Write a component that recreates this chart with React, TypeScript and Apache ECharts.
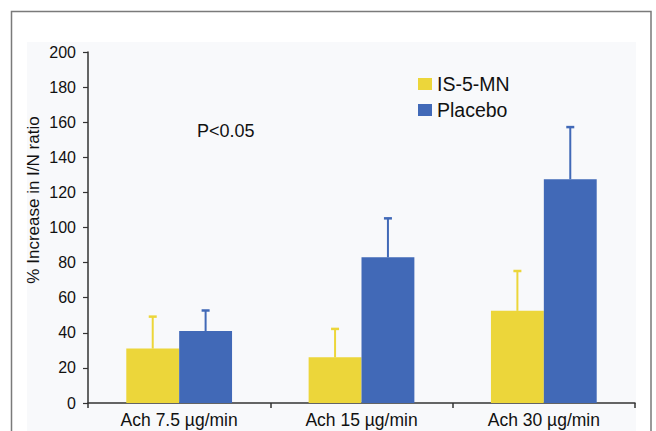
import React, { useEffect, useRef } from "react";
import * as echarts from "echarts";

const categories = ["Ach 7.5 µg/min", "Ach 15 µg/min", "Ach 30 µg/min"];
const isMeans = [31, 26, 52.5];
const isUpper = [49.5, 42.5, 75.5];
const placeboMeans = [41, 83, 127.5];
const placeboUpper = [53, 105.5, 157.5];
const seriesNames = ["IS-5-MN", "Placebo"];
const yTicks = { min: 0, max: 200, interval: 20 };

const YELLOW = "#ecd63a";
const BLUE = "#4169b7";
const FONT = "'Liberation Sans', Arial, Helvetica, sans-serif";

export default function App() {
  const ref = useRef<HTMLDivElement>(null);
  useEffect(() => {
    if (!ref.current) return;
    const chart = echarts.init(ref.current, null, { renderer: "svg" });
    const BAR_FRAC = 0.29;
    const errRender = (side: number, color: string) => (params: any, api: any) => {
      const cat = api.value(0);
      const mean = api.value(1);
      const top = api.value(2);
      const band = api.size([1, 0])[0];
      const off = side * band * BAR_FRAC * 0.5;
      const p0 = api.coord([cat, mean]);
      const p1 = api.coord([cat, top]);
      const x = p0[0] + off;
      return {
        type: "group",
        children: [
          {
            type: "line",
            shape: { x1: x, y1: p0[1], x2: x, y2: p1[1] },
            style: { stroke: color, lineWidth: 2 },
          },
          {
            type: "line",
            shape: { x1: x - 4, y1: p1[1] + 0.5, x2: x + 4, y2: p1[1] + 0.5 },
            style: { stroke: color, lineWidth: 2.5 },
          },
        ],
      };
    };
    chart.setOption({
      animation: false,
      backgroundColor: "#ffffff",
      textStyle: { fontFamily: FONT },
      grid: { left: 88, right: 21, top: 52, bottom: 28, containLabel: false },
      legend: {
        data: seriesNames.map((n) => ({ name: n, icon: "rect" })),
        orient: "vertical",
        left: 413,
        top: 69,
        itemWidth: 14,
        itemHeight: 12,
        itemGap: 6,
        textStyle: { fontSize: 19.5, color: "#111", fontFamily: FONT },
      },
      xAxis: {
        type: "category",
        data: categories,
        boundaryGap: true,
        axisLine: { lineStyle: { color: "#333", width: 1.5 } },
        axisTick: { show: true, length: 5, lineStyle: { color: "#333", width: 1.5 } },
        axisLabel: { fontSize: 17.5, color: "#111", margin: 8, fontFamily: FONT },
      },
      yAxis: {
        type: "value",
        min: yTicks.min,
        max: yTicks.max,
        interval: yTicks.interval,
        splitLine: { show: false },
        axisLine: { show: true, lineStyle: { color: "#333", width: 1.5 } },
        axisTick: { show: true, length: 5, lineStyle: { color: "#333", width: 1.2 } },
        axisLabel: { fontSize: 16, color: "#111", margin: 12, fontFamily: FONT },
      },
      graphic: [
        {
          type: "rect",
          z: -10,
          shape: { x: 27, y: 42, width: 609, height: 400 },
          style: { fill: "#f8f9fb" },
        },
        {
          type: "rect",
          z: -5,
          shape: { x: 11.5, y: 11.5, width: 639.5, height: 430 },
          style: { fill: "none", stroke: "#7a7a7a", lineWidth: 1.5 },
        },
        {
          type: "text",
          x: 33,
          y: 200,
          rotation: Math.PI / 2,
          style: {
            text: "% Increase in I/N ratio",
            font: `17px ${FONT}`,
            fill: "#111",
            align: "center",
            verticalAlign: "middle",
          },
        },
        {
          type: "text",
          x: 197,
          y: 131,
          style: {
            text: "P<0.05",
            font: `18px ${FONT}`,
            fill: "#111",
            align: "left",
            verticalAlign: "middle",
          },
        },
      ],
      series: [
        {
          name: seriesNames[0],
          type: "bar",
          data: isMeans,
          barWidth: "29%",
          barGap: "0%",
          itemStyle: { color: YELLOW },
        },
        {
          name: seriesNames[1],
          type: "bar",
          data: placeboMeans,
          barWidth: "29%",
          barGap: "0%",
          itemStyle: { color: BLUE },
        },
        {
          type: "custom",
          name: "err-is",
          renderItem: errRender(-1, YELLOW),
          data: isMeans.map((m, i) => [i, m, isUpper[i]]),
          z: 3,
        },
        {
          type: "custom",
          name: "err-placebo",
          renderItem: errRender(1, BLUE),
          data: placeboMeans.map((m, i) => [i, m, placeboUpper[i]]),
          z: 3,
        },
      ],
    });
    return () => chart.dispose();
  }, []);
  return (
    <div
      ref={ref}
      style={{ position: "fixed", left: 0, top: 0, width: 656, height: 431 }}
    />
  );
}
